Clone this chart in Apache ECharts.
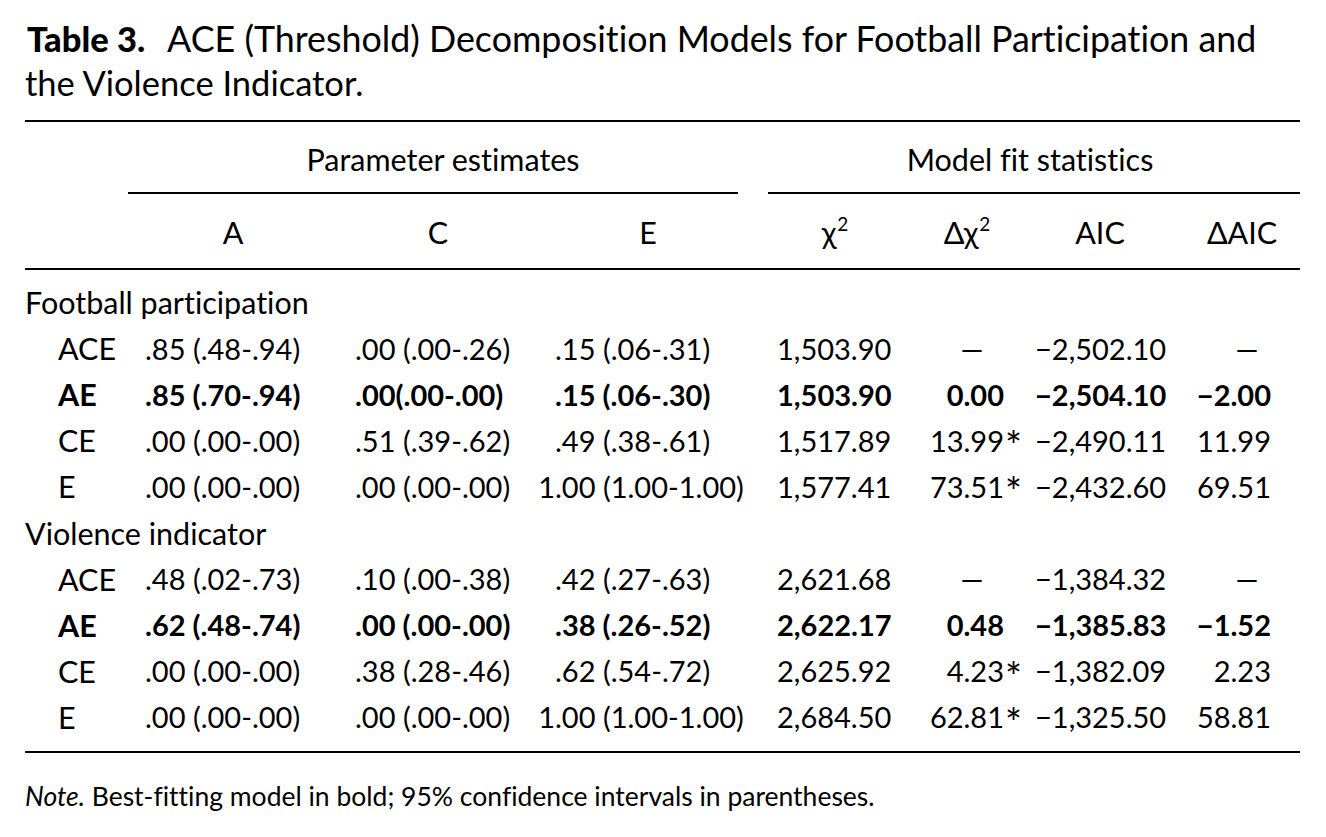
<!DOCTYPE html>
<html>
<head>
<meta charset="utf-8">
<script src="https://cdn.jsdelivr.net/npm/echarts@6/dist/echarts.min.js"></script>
<style>
html, body { margin: 0; background: #fff; }
#main { width: 1326px; height: 837px; }
#main text { font-variant-ligatures: none !important; }
</style>
</head>
<body>
<div id="main"></div>
<script>
// ---- table data ----
const tableTitleBold = 'Table 3.';
const tableTitle = ['ACE (Threshold) Decomposition Models for Football Participation and', 'the Violence Indicator.'];
const groupHeaders = ['Parameter estimates', 'Model fit statistics'];
const paramHeaders = ['A', 'C', 'E'];
const fitHeaders = [['χ', '2'], ['Δχ', '2'], ['AIC', ''], ['ΔAIC', '']];
const groupNames = ['Football participation', 'Violence indicator'];
const modelNames = ['ACE', 'AE', 'CE', 'E'];
const bestModel = 'AE';

const footballA = ['.85 (.48-.94)', '.85 (.70-.94)', '.00 (.00-.00)', '.00 (.00-.00)'];
const footballC = ['.00 (.00-.26)', '.00(.00-.00)', '.51 (.39-.62)', '.00 (.00-.00)'];
const footballE = ['.15 (.06-.31)', '.15 (.06-.30)', '.49 (.38-.61)', '1.00 (1.00-1.00)'];
const footballChi2 = [1503.90, 1503.90, 1517.89, 1577.41];
const footballDChi2 = [null, 0.00, 13.99, 73.51];
const footballSig = [false, false, true, true];
const footballAIC = [-2502.10, -2504.10, -2490.11, -2432.60];
const footballDAIC = [null, -2.00, 11.99, 69.51];

const violenceA = ['.48 (.02-.73)', '.62 (.48-.74)', '.00 (.00-.00)', '.00 (.00-.00)'];
const violenceC = ['.10 (.00-.38)', '.00 (.00-.00)', '.38 (.28-.46)', '.00 (.00-.00)'];
const violenceE = ['.42 (.27-.63)', '.38 (.26-.52)', '.62 (.54-.72)', '1.00 (1.00-1.00)'];
const violenceChi2 = [2621.68, 2622.17, 2625.92, 2684.50];
const violenceDChi2 = [null, 0.48, 4.23, 62.81];
const violenceSig = [false, false, true, true];
const violenceAIC = [-1384.32, -1385.83, -1382.09, -1325.50];
const violenceDAIC = [null, -1.52, 2.23, 58.81];

const noteLabel = 'Note.';
const noteText = ' Best-fitting model in bold; 95% confidence intervals in parentheses.';

// ---- layout ----
const FONT = 'Lato';
const NUM = 29;     // numbers
const WORD = 30.5;  // words / headers
const TITLE = 34.5;
const NOTE = 26.5;
const W = 1326;
// column anchors: 'left' | 'dot' (line up first decimal point) | 'right' (number right edge, star hangs)
const cols = [
    { x: 25, mode: 'left', size: WORD },    // group label
    { x: 58, mode: 'left', size: WORD },    // model
    { x: 145, mode: 'dot', size: NUM },     // A
    { x: 355, mode: 'dot', size: NUM },     // C
    { x: 555, mode: 'dot', size: NUM },     // E
    { x: 777, mode: 'left', size: NUM },    // chi2
    { x: 1004, mode: 'right', dash: 972, size: NUM },   // dchi2
    { x: 1035, mode: 'left', size: NUM },   // AIC
    { x: 1271, mode: 'right', dash: 1247, size: NUM }   // dAIC
];

const ctx = document.createElement('canvas').getContext('2d');
function fontStr(size, weight, style) {
    return (style || 'normal') + ' ' + (weight || 'normal') + ' ' + size + 'px ' + FONT;
}
function textW(s, bold, size, style) {
    ctx.font = fontStr(size, bold === true ? 'bold' : (bold || 'normal'), style);
    return ctx.measureText(s).width;
}

function fmt(v) {
    let s = Math.abs(v).toLocaleString('en-US', { minimumFractionDigits: 2, maximumFractionDigits: 2 });
    return (v < 0 ? '\u2212' : '') + s;
}

// build rows of cells
let cells = [];
let rowKeys = [];
const groups = [
    [footballA, footballC, footballE, footballChi2, footballDChi2, footballSig, footballAIC, footballDAIC],
    [violenceA, violenceC, violenceE, violenceChi2, violenceDChi2, violenceSig, violenceAIC, violenceDAIC]
];
groups.forEach((g, gi) => {
    let r = rowKeys.length;
    rowKeys.push(groupNames[gi]);
    cells.push({ col: 0, row: r, text: groupNames[gi], bold: false });
    modelNames.forEach((m, i) => {
        let row = rowKeys.length;
        rowKeys.push(groupNames[gi] + ' ' + m);
        let bold = m === bestModel;
        cells.push({ col: 1, row, text: m, bold });
        cells.push({ col: 2, row, text: g[0][i], bold });
        cells.push({ col: 3, row, text: g[1][i], bold });
        cells.push({ col: 4, row, text: g[2][i], bold });
        cells.push({ col: 5, row, text: fmt(g[3][i]), bold });
        cells.push({ col: 6, row, text: g[4][i] === null ? '\u2014' : fmt(g[4][i]), star: g[5][i], bold });
        cells.push({ col: 7, row, text: fmt(g[6][i]), bold });
        cells.push({ col: 8, row, text: g[7][i] === null ? '\u2014' : fmt(g[7][i]), bold });
    });
});

function cellX(c) {
    let layout = cols[c.col];
    if (layout.mode === 'dot') {
        let lead = c.text.slice(0, c.text.indexOf('.'));
        return layout.x - textW(lead, c.bold, layout.size);
    }
    if (layout.mode === 'right') {
        if (c.text === '\u2014') return layout.dash - textW(c.text, c.bold, layout.size) / 2;
        return layout.x - textW(c.text, c.bold, layout.size);
    }
    return layout.x;
}

const chart = echarts.init(document.getElementById('main'), null, { renderer: 'svg' });

function hline(x1, x2, y) {
    return { type: 'line', shape: { x1, y1: y, x2, y2: y }, style: { stroke: '#000', lineWidth: 2 }, silent: true };
}
function label(x, y, text, align, size, weight, style) {
    return {
        type: 'text', x, y, silent: true,
        style: { text, fill: '#000', font: fontStr(size, weight, style), align, verticalAlign: 'middle' }
    };
}
// header with optional superscript, centred on cx
function supHeader(cx, y, base, sup) {
    let bw = textW(base, false, WORD);
    let sw = sup ? textW(sup, false, 19) + 1 : 0;
    let x0 = cx - (bw + sw) / 2;
    let parts = [label(x0, y, base, 'left', WORD)];
    if (sup) parts.push(label(x0 + bw + 1, y - 9, sup, 'left', 19));
    return parts;
}

const titleBoldW = textW(tableTitleBold, '900', TITLE);
const noteLabelW = textW(noteLabel, false, NOTE, 'italic');

const graphics = [
    label(27, 38, tableTitleBold, 'left', TITLE, 900),
    label(27 + titleBoldW + 22, 38, tableTitle[0], 'left', 35.8),
    label(25, 82, tableTitle[1], 'left', TITLE),
    hline(25, 1300, 121),
    label(443, 159, groupHeaders[0], 'center', WORD),
    label(1030, 159, groupHeaders[1], 'center', WORD),
    hline(128, 738, 193),
    hline(768, 1300, 193),
    label(233, 232, paramHeaders[0], 'center', WORD),
    label(438, 232, paramHeaders[1], 'center', WORD),
    label(648, 232, paramHeaders[2], 'center', WORD),
    ...supHeader(835, 232, fitHeaders[0][0], fitHeaders[0][1]),
    ...supHeader(967, 232, fitHeaders[1][0], fitHeaders[1][1]),
    ...supHeader(1100, 232, fitHeaders[2][0], fitHeaders[2][1]),
    ...supHeader(1242, 232, fitHeaders[3][0], fitHeaders[3][1]),
    hline(25, 1300, 269),
    hline(25, 1300, 752),
    label(25, 796, noteLabel, 'left', NOTE, 'normal', 'italic'),
    label(25 + noteLabelW, 796, noteText, 'left', NOTE)
];

const option = {
    animation: false,
    backgroundColor: '#fff',
    grid: { left: 0, right: 0, top: 279, height: 461 },
    xAxis: { type: 'value', min: 0, max: W, show: false },
    yAxis: { type: 'category', data: rowKeys, inverse: true, show: false },
    graphic: graphics,
    series: [{
        type: 'custom',
        silent: true,
        data: cells.map(c => [c.col, c.row]),
        encode: { x: 0, y: 1 },
        renderItem: function (params, api) {
            let c = cells[params.dataIndex];
            let size = cols[c.col].size;
            let y = api.coord([0, api.value(1)])[1];
            let x = cellX(c);
            let font = fontStr(size, c.bold ? 'bold' : 'normal');
            let children = [{
                type: 'text',
                style: { x, y, text: c.text, fill: '#000', font, align: 'left', verticalAlign: 'middle' }
            }];
            if (c.star) {
                children.push({
                    type: 'text',
                    style: {
                        x: x + textW(c.text, c.bold, size) + 1, y: y + 6, text: '*', fill: '#000',
                        font: fontStr(40), align: 'left', verticalAlign: 'middle'
                    }
                });
            }
            return { type: 'group', children };
        }
    }]
};
chart.setOption(option);
</script>
</body>
</html>
